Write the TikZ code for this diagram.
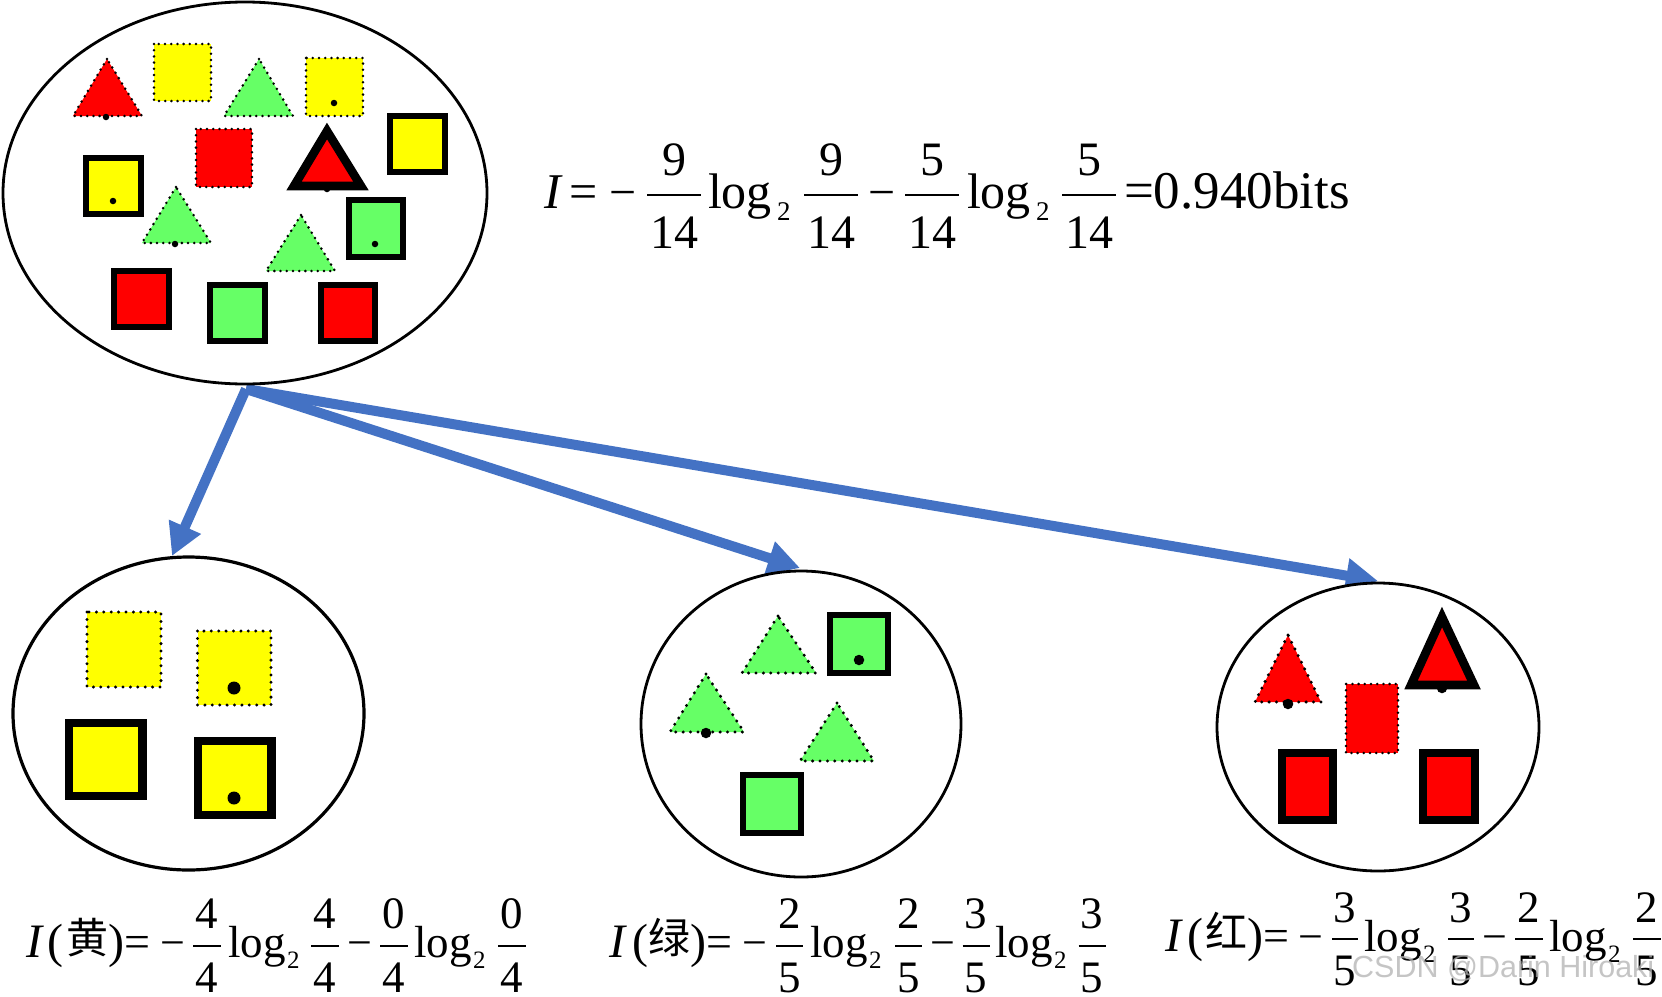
\documentclass[tikz,border=0pt]{standalone}
\usepackage{fontspec}
\setmainfont{Liberation Serif}
\newfontfamily\cjk{Noto Sans CJK SC}
\newfontfamily\wmfont{Liberation Sans}
\usetikzlibrary{arrows.meta,shapes.geometric}
\definecolor{cred}{HTML}{FF0000}
\definecolor{cyel}{HTML}{FFFF00}
\definecolor{cgrn}{HTML}{66FF66}
\definecolor{cblu}{HTML}{4472C4}
\newcounter{lbl}
\newcommand\fsz[1]{\fontsize{#1}{#1}\selectfont}
% #1 x, #2 baseline y, #3 size, #4 text
\newcommand\lab[4]{\stepcounter{lbl}\node[txt,anchor=base west] (t\thelbl) at (#1,#2) {\fsz{#3}#4};}
\newcommand\clab[4]{\stepcounter{lbl}\node[txt,anchor=base] (t\thelbl) at (#1,#2) {\fsz{#3}#4};}
% fraction: #1 cx, #2 half width, #3 num, #4 den, #5 num base, #6 bar y, #7 den base, #8 size
\newcommand\fr[8]{\clab{#1}{#5}{#8}{#3}\clab{#1}{#7}{#8}{#4}\draw[fbar] (#1-#2,#6) -- (#1+#2,#6);}
\tikzset{
  txt/.style={inner sep=0pt,outer sep=0pt,text=black},
  fbar/.style={line width=2.3pt,draw=black},
  dotA/.style={draw=black,line width=2.8pt,line cap=round,dash pattern=on 0pt off 6.2pt},
  dotB/.style={draw=black,line width=3.3pt,line cap=round,dash pattern=on 0pt off 7.4pt},
  solA/.style={draw=black,line width=6.6pt,miter limit=10},
  solB/.style={draw=black,line width=8.6pt,miter limit=10},
  solC/.style={draw=black,line width=6.8pt,miter limit=10},
  solD/.style={draw=black,line width=7.3pt,miter limit=10},
  blob/.style={circle,fill=black,inner sep=0pt,outer sep=0pt},
  bag/.style={ellipse,draw=black,fill=white,inner sep=0pt,outer sep=0pt,line width=2.8pt},
  flow/.style={draw=cblu,line width=10pt,-{Triangle[length=32pt,width=33pt]}},
}
\begin{document}
\begin{tikzpicture}[x=1pt,y=-1pt]
\useasboundingbox (0,0) rectangle (1662,996);
\fill[white] (0,0) rectangle (1662,996);
% arrows
\coordinate (src) at (246,389);
\coordinate (tipY) at (172,556);
\coordinate (tipG) at (800,568);
\coordinate (tipR) at (1378,581);
\draw[flow] (src) -- (tipY);
\draw[flow] (src) -- (tipG);
\draw[flow] (src) -- (tipR);
% bags
\node[bag,minimum width=484pt,minimum height=382pt] (bagT) at (245,193) {};
\node[bag,minimum width=351pt,minimum height=313pt,line width=3.2pt] (bagY) at (188.5,713.5) {};
\node[bag,minimum width=320pt,minimum height=306pt] (bagG) at (801,724) {};
\node[bag,minimum width=322pt,minimum height=288pt] (bagR) at (1378,727) {};
% top bag
\draw[dotA,fill=cred] (107,59) -- (73,116) -- (142,116) -- cycle;
\node[blob,minimum size=6.5pt] (d1) at (106,117) {};
\draw[dotA,fill=cyel] (154,44) rectangle (211,101);
\draw[dotA,fill=cgrn] (259,59) -- (224,116) -- (293,116) -- cycle;
\draw[dotA,fill=cyel] (306,58) rectangle (363,116);
\node[blob,minimum size=6.5pt] (d2) at (334,103) {};
\draw[solA,fill=cyel] (390,116) rectangle (445,172);
\draw[dotA,fill=cred] (196,129) rectangle (252,187);
\node[blob,minimum size=6.5pt] (d3) at (327,189) {};
\draw[solB,fill=cred] (327,131) -- (294,186) -- (361,186) -- cycle;
\draw[solA,fill=cyel] (86,158) rectangle (141,214);
\node[blob,minimum size=6.5pt] (d4) at (113,201) {};
\draw[dotA,fill=cgrn] (176,187) -- (142,243) -- (211,243) -- cycle;
\node[blob,minimum size=6.5pt] (d5) at (175,244) {};
\draw[dotA,fill=cgrn] (301,215) -- (266,271) -- (335,271) -- cycle;
\draw[solA,fill=cgrn] (349,200) rectangle (403,257);
\node[blob,minimum size=6.5pt] (d6) at (375,244) {};
\draw[solA,fill=cred] (114,271) rectangle (169,327);
\draw[solA,fill=cgrn] (210,285) rectangle (265,341);
\draw[solA,fill=cred] (321,285) rectangle (375,341);
% yellow bag
\draw[dotB,fill=cyel] (87,612) rectangle (161,687);
\draw[dotB,fill=cyel] (197.5,631) rectangle (271,705);
\node[blob,minimum size=13pt] (d7) at (234,688) {};
\draw[solB,fill=cyel] (69,723) rectangle (142.5,796);
\draw[solB,fill=cyel] (198,741) rectangle (271.5,815);
\node[blob,minimum size=13pt] (d8) at (234,798) {};
% green bag
\draw[dotB,fill=cgrn] (778,616) -- (742,673) -- (816,673) -- cycle;
\draw[solC,fill=cgrn] (830,615) rectangle (888,673);
\node[blob,minimum size=10.5pt] (d9) at (859,660) {};
\draw[dotB,fill=cgrn] (706,674) -- (670,732) -- (744,732) -- cycle;
\node[blob,minimum size=10.5pt] (d10) at (706,733) {};
\draw[dotB,fill=cgrn] (837,703) -- (800,761) -- (874,761) -- cycle;
\draw[solC,fill=cgrn] (743,775) rectangle (801,833);
% red bag
\draw[dotB,fill=cred] (1288,635) -- (1255,702) -- (1321,702) -- cycle;
\node[blob,minimum size=10.5pt] (d11) at (1288,704) {};
\draw[dotA,fill=cred] (1346,684) rectangle (1398,753);
\node[blob,minimum size=10.5pt] (d12) at (1442,688) {};
\draw[solB,fill=cred] (1442,617) -- (1411,685) -- (1474,685) -- cycle;
\draw[solD,fill=cred] (1282,753) rectangle (1333,820);
\draw[solD,fill=cred] (1423,753) rectangle (1475,820);
% top formula
\lab{544}{208}{50}{\itshape I}
\lab{569}{208}{50}{=}
\lab{609}{208}{48}{−}
\fr{674}{27}{9}{14}{175}{195}{248}{48}
\lab{708}{208}{50}{log}
\lab{777}{220}{27}{2}
\fr{831}{27}{9}{14}{175}{195}{248}{48}
\lab{868}{208}{48}{−}
\fr{932}{27}{5}{14}{175}{195}{248}{48}
\lab{967}{208}{50}{log}
\lab{1036}{220}{27}{2}
\fr{1089}{27}{5}{14}{175}{195}{248}{48}
\lab{1124}{208}{53}{=0.940bits}
% yellow formula
\lab{26}{957}{48}{\itshape I}
\lab{47}{957}{48}{(}
\lab{66}{953}{42}{\cjk 黄}
\lab{108}{957}{48}{)}
\lab{124}{957}{46}{=}
\lab{160}{957}{44}{−}
\fr{207}{14}{4}{4}{928}{946}{992}{45}
\lab{228}{957}{45}{log}
\lab{287}{968}{25}{2}
\fr{325}{14}{4}{4}{928}{946}{992}{45}
\lab{347}{957}{44}{−}
\fr{394}{14}{0}{4}{928}{946}{992}{45}
\lab{414}{957}{45}{log}
\lab{473}{968}{25}{2}
\fr{512}{14}{0}{4}{928}{946}{992}{45}
% green formula
\lab{609}{957}{48}{\itshape I}
\lab{632}{957}{48}{(}
\lab{648}{953}{42}{\cjk 绿}
\lab{690}{957}{48}{)}
\lab{706}{957}{46}{=}
\lab{742}{957}{44}{−}
\fr{789.5}{13.5}{2}{5}{928}{946}{992}{45}
\lab{810}{957}{45}{log}
\lab{869}{968}{25}{2}
\fr{908.5}{13.5}{2}{5}{928}{946}{992}{45}
\lab{930}{957}{44}{−}
\fr{976}{13.5}{3}{5}{928}{946}{992}{45}
\lab{995}{957}{45}{log}
\lab{1054}{968}{25}{2}
\fr{1092}{13.5}{3}{5}{928}{946}{992}{45}
% red formula
\lab{1165}{951}{48}{\itshape I}
\lab{1187}{951}{48}{(}
\lab{1205}{947}{42}{\cjk 红}
\lab{1247}{951}{48}{)}
\lab{1263}{951}{46}{=}
\lab{1298}{951}{44}{−}
\fr{1345}{13}{3}{5}{922}{939}{985}{45}
\lab{1364}{951}{45}{log}
\lab{1423}{962}{25}{2}
\fr{1461}{13}{3}{5}{922}{939}{985}{45}
\lab{1482}{951}{44}{−}
\fr{1529}{14}{2}{5}{922}{939}{985}{45}
\lab{1549}{951}{45}{log}
\lab{1608}{962}{25}{2}
\fr{1647}{14}{2}{5}{922}{939}{985}{45}
% watermark
\node[inner sep=0pt,anchor=base west,text=gray!60,text opacity=0.75] (wm) at (1352,977) {\fsz{30.5}\wmfont CSDN @Darin Hiroaki};
\end{tikzpicture}
\end{document}
